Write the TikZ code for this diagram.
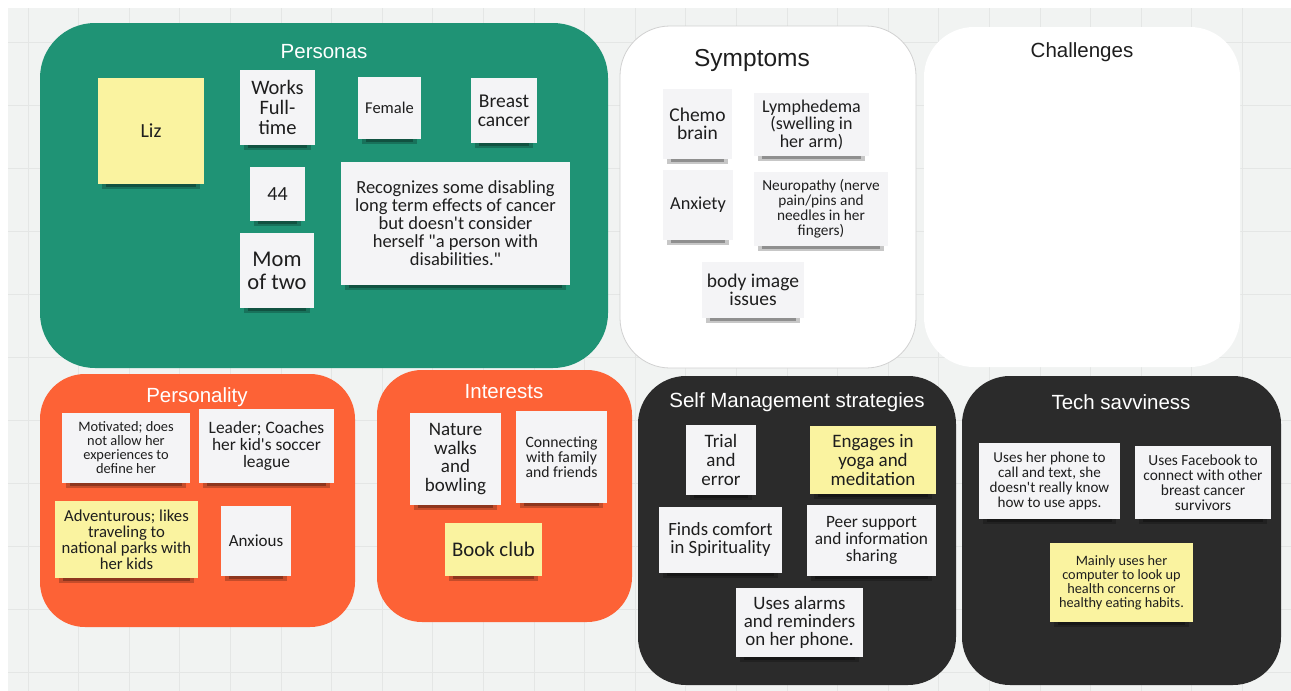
\documentclass[tikz,border=0pt]{standalone}
\usepackage{fontspec}
\setmainfont{Carlito}[Ligatures=TeXOff]
\newfontfamily\titlefont{Liberation Sans}
\newcommand\myfs[2]{\fontsize{#1}{#2}\selectfont}
\definecolor{persgreen}{RGB}{31,147,117}
\definecolor{persorange}{RGB}{253,98,54}
\definecolor{darkpanel}{RGB}{43,43,43}
\definecolor{bgcol}{RGB}{241,243,242}
\definecolor{gridcol}{RGB}{228,230,229}
\definecolor{stickyw}{RGB}{244,244,246}
\definecolor{stickyy}{RGB}{250,243,160}
\definecolor{inkcol}{RGB}{30,30,30}
\begin{document}
\begin{tikzpicture}[x=1pt,y=-1pt,
  panel/.style={rectangle, rounded corners=#1, inner sep=0pt, outer sep=0pt},
  ttl/.style={inner sep=0pt, font={\titlefont\myfs{20.5}{24}}},
  sticky/.style n args={2}{rectangle, minimum width=#1, minimum height=#2, inner sep=1pt,
     align=center, text=inkcol, fill=stickyw,
     append after command={\pgfextra{%
       \fill[black, opacity=0.22] ([xshift=4pt]\tikzlastnode.south west) rectangle ([xshift=-4pt, yshift=-4.5pt]\tikzlastnode.south east);
       \fill[black, opacity=0.28] ([xshift=8pt]\tikzlastnode.south west) rectangle ([xshift=-8pt, yshift=-2.5pt]\tikzlastnode.south east);
     }}},
  ysticky/.style={fill=stickyy}
]
\useasboundingbox (0,0) rectangle (1291,691);
\fill[white] (0,0) rectangle (1291,691);
\fill[bgcol] (8,8) rectangle (1291,691);
\foreach \i in {0,...,25} \draw[gridcol, line width=1pt] ({28+50.6*\i},8) -- ({28+50.6*\i},691);
\foreach \j in {0,...,10} \draw[gridcol, line width=1pt] (8,{42+63*\j}) -- (1291,{42+63*\j});

% ---------- panels ----------
\node[panel=55pt, fill=persgreen, minimum width=568pt, minimum height=345pt] (personas) at (324,195.5) {};
\node[panel=50pt, fill=white, draw=black!18, line width=0.8pt, minimum width=296pt, minimum height=342pt] (symptoms) at (768,197) {};
\node[panel=50pt, fill=white, minimum width=316pt, minimum height=340pt] (challenges) at (1082,197) {};
\node[panel=45pt, fill=persorange, minimum width=315pt, minimum height=253pt] (personality) at (197.5,500.5) {};
\node[panel=45pt, fill=persorange, minimum width=255pt, minimum height=252pt] (interests) at (504.5,496) {};
\node[panel=48pt, fill=darkpanel, minimum width=318pt, minimum height=309pt] (selfmgmt) at (797,530.5) {};
\node[panel=48pt, fill=darkpanel, minimum width=319pt, minimum height=309pt] (tech) at (1121.5,530.5) {};

% ---------- titles ----------
\node[ttl, text=white] (tpersonas) at (324,52) {Personas};
\node[ttl, text=inkcol, font={\titlefont\myfs{24.5}{28}}] (tsymptoms) at (752,60) {Symptoms};
\node[ttl, text=inkcol] (tchallenges) at (1082,52) {Challenges};
\node[ttl, text=white] (tpersonality) at (197,397) {Personality};
\node[ttl, text=white] (tinterests) at (504,392) {Interests};
\node[ttl, text=white] (tselfmgmt) at (797,402) {Self Management strategies};
\node[ttl, text=white] (ttech) at (1121,402) {Tech savviness};

% ---------- Personas ----------
\node[sticky={106pt}{106pt}, ysticky, font={\myfs{20}{20}}] (liz) at (151,131) {Liz};
\node[sticky={75pt}{75pt}, font={\myfs{20.5}{20}}] (works) at (277.5,107.5) {Works\\Full-\\time};
\node[sticky={63pt}{62pt}, font={\myfs{16.5}{17}}] (female) at (389.5,108) {Female};
\node[sticky={66pt}{65pt}, font={\myfs{19.5}{19}}] (breast) at (504,110.5) {Breast\\cancer};
\node[sticky={55pt}{54pt}, font={\myfs{20}{20}}] (age) at (277.5,194) {44};
\node[sticky={74pt}{75pt}, font={\myfs{22.5}{23}}] (mom) at (277,270.5) {Mom\\of two};
\node[sticky={229pt}{123pt}, font={\myfs{18.5}{18}}] (recog) at (455.5,223.5)
  {Recognizes some disabling\\long term effects of cancer\\but doesn't consider\\herself "a person with\\disabilities."};

% ---------- Symptoms ----------
\node[sticky={69pt}{70pt}, font={\myfs{19.5}{18}}] (chemo) at (697.5,124) {Chemo\\brain};
\node[sticky={115pt}{63pt}, font={\myfs{18}{17.5}}] (lymph) at (811.5,124.5) {Lymphedema\\(swelling in\\her arm)};
\node[sticky={70pt}{70pt}, font={\myfs{18.3}{18}}] (anxiety) at (698,205) {Anxiety};
\node[sticky={134pt}{74pt}, font={\myfs{15.3}{15}}] (neuro) at (821,209) {Neuropathy (nerve\\pain/pins and\\needles in her\\fingers)};
\node[sticky={102pt}{56pt}, font={\myfs{19.5}{18}}] (body) at (753,290) {body image\\issues};

% ---------- Personality ----------
\node[sticky={128pt}{70pt}, font={\myfs{14.4}{14}}] (motiv) at (126,448) {Motivated; does\\not allow her\\experiences to\\define her};
\node[sticky={135pt}{74pt}, font={\myfs{17.4}{17}}] (leader) at (266.5,446) {Leader; Coaches\\her kid's soccer\\league};
\node[sticky={143pt}{77pt}, ysticky, font={\myfs{16.7}{16}}] (advent) at (126.5,539.5) {Adventurous; likes\\traveling to\\national parks with\\her kids};
\node[sticky={70pt}{70pt}, font={\myfs{17}{17}}] (anxious) at (256,541) {Anxious};

% ---------- Interests ----------
\node[sticky={91pt}{92pt}, font={\myfs{19}{18.5}}] (nature) at (455.5,459) {Nature\\walks\\and\\bowling};
\node[sticky={91pt}{92pt}, font={\myfs{15.7}{15}}] (connect) at (561.5,457) {Connecting\\with family\\and friends};
\node[sticky={97pt}{53pt}, ysticky, font={\myfs{20.8}{20}}] (book) at (493.5,549.5) {Book club};

% ---------- Self management ----------
\node[sticky={70pt}{70pt}, font={\myfs{19}{19}}] (trial) at (721,460) {Trial\\and\\error};
\node[sticky={126pt}{68pt}, ysticky, font={\myfs{19}{18.7}}] (yoga) at (873,460) {Engages in\\yoga and\\meditation};
\node[sticky={123pt}{66pt}, font={\myfs{18.7}{18}}] (finds) at (720.5,540) {Finds comfort\\in Spirituality};
\node[sticky={129pt}{71pt}, font={\myfs{17.3}{17}}] (peer) at (871.5,540.5) {Peer support\\and information\\sharing};
\node[sticky={127pt}{69pt}, font={\myfs{18.9}{18}}] (alarms) at (799.5,622.5) {Uses alarms\\and reminders\\on her phone.};

% ---------- Tech ----------
\node[sticky={141pt}{76pt}, font={\myfs{15.1}{15}}] (phone) at (1049.5,481) {Uses her phone to\\call and text, she\\doesn't really know\\how to use apps.};
\node[sticky={136pt}{73pt}, font={\myfs{15.4}{15}}] (fb) at (1203,482.5) {Uses Facebook to\\connect with other\\breast cancer\\survivors};
\node[sticky={143pt}{79pt}, ysticky, font={\myfs{14.3}{14}}] (mainly) at (1121.5,582.5) {Mainly uses her\\computer to look up\\health concerns or\\healthy eating habits.};
\end{tikzpicture}
\end{document}
